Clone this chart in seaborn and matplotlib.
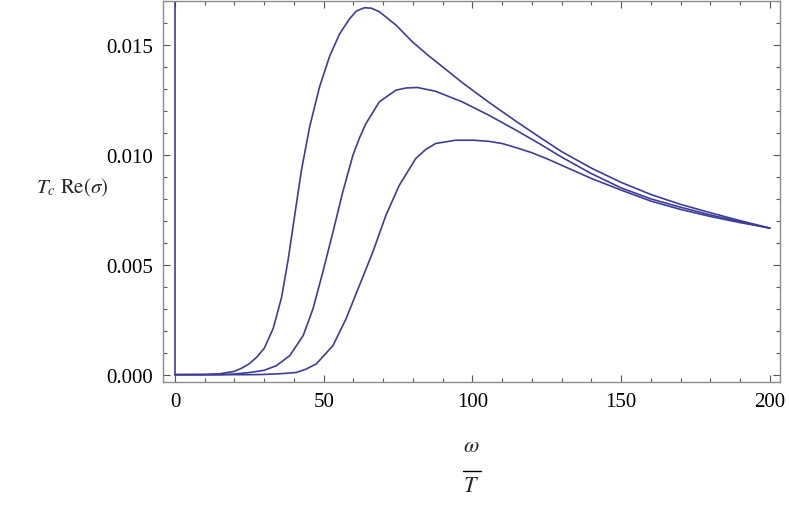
import numpy as np
import pandas as pd
import matplotlib
matplotlib.use("Agg")
import matplotlib.pyplot as plt
from matplotlib.lines import Line2D
from matplotlib.ticker import MultipleLocator, FixedLocator
import seaborn as sns

# values, one (omega, value) list per curve
omega_a = [0, 10, 15, 20, 22.5, 25, 27.5, 30, 33.0, 35.8, 38.0, 40.3, 42.5,
           45.3, 48.6, 52.0, 55.3, 58.7, 61, 63.7, 66, 68.7, 74.3, 79.8, 85.4,
           91.0, 96.5, 105.5, 115, 122.7, 130, 140, 150, 160, 170, 180, 190, 200]
curve_a = [0, 0.00001, 0.00004, 0.00015, 0.0003, 0.0005, 0.0008, 0.0012,
           0.0021, 0.0035, 0.0052, 0.0073, 0.0093, 0.0113, 0.0131, 0.0145,
           0.0155, 0.0162, 0.01655, 0.0167, 0.01668, 0.01652, 0.01591, 0.01515,
           0.0145, 0.0139, 0.0133, 0.0124, 0.0115, 0.0108, 0.01015, 0.0094,
           0.00875, 0.0082, 0.00775, 0.00737, 0.00701, 0.00667]

omega_b = [0, 15, 20, 25.2, 30, 34.1, 38.6, 43.1, 46.4, 49.7, 53.1, 56.4, 59.8,
           62, 64.2, 68.7, 74.3, 77.8, 81.5, 87.6, 96.5, 105.5, 115, 122.7, 130,
           140, 150, 160, 170, 180, 190, 200]
curve_b = [0, 0, 0.00003, 0.0001, 0.0002, 0.00041, 0.00087, 0.00178, 0.003,
           0.00467, 0.00649, 0.00831, 0.00998, 0.01077, 0.01143, 0.01242, 0.01295,
           0.01305, 0.01307, 0.0129, 0.01242, 0.01181, 0.0111, 0.0105, 0.0099,
           0.00915, 0.0085, 0.0080, 0.00762, 0.00727, 0.00696, 0.00667]

omega_c = [0, 25, 29.7, 35, 40.8, 44, 47.5, 53.1, 57.5, 62.0, 66.5, 70.9, 75.4,
           80.9, 84.2, 87.6, 94.3, 100.4, 105.5, 110, 115, 120, 125, 130, 140,
           150, 160, 170, 180, 190, 200]
curve_c = [0, 0, 0.00001, 0.00004, 0.0001, 0.00025, 0.00049, 0.00132, 0.00254,
           0.00406, 0.00558, 0.00725, 0.00862, 0.00983, 0.01024, 0.01052, 0.01067,
           0.01067, 0.01062, 0.01052, 0.01032, 0.0101, 0.00983, 0.00953, 0.00893,
           0.0084, 0.0079, 0.00752, 0.0072, 0.00692, 0.00667]

# delta peak at omega = 0
delta_x = [0, 0]
delta_y = [0, 0.0175]

df = pd.DataFrame({
    "omega": omega_a + omega_b + omega_c,
    "val": curve_a + curve_b + curve_c,
    "curve": ["a"] * len(omega_a) + ["b"] * len(omega_b) + ["c"] * len(omega_c),
})

sns.set_style("ticks")
plt.rcParams["font.family"] = ["Liberation Serif", "DejaVu Serif"]
plt.rcParams["mathtext.fontset"] = "stix"

line_col = "#3d3d99"
frame_col = "#8c8c8c"

fig = plt.figure(figsize=(7.89, 5.06), dpi=100)
ax = fig.add_axes([0.2066, 0.2431, 0.782, 0.7529])

sns.lineplot(data=df, x="omega", y="val", units="curve", estimator=None,
             color=line_col, lw=1.2, ax=ax)
sns.lineplot(x=delta_x, y=delta_y, estimator=None, sort=False,
             color=line_col, lw=1.2, ax=ax)

ax.set_xlim(-4.03, 203.4)
ax.set_ylim(-0.000333, 0.017006)

ax.xaxis.set_major_locator(FixedLocator([0, 50, 100, 150, 200]))
ax.xaxis.set_minor_locator(MultipleLocator(10))
ax.yaxis.set_major_locator(FixedLocator([0.0, 0.005, 0.010, 0.015]))
ax.yaxis.set_minor_locator(MultipleLocator(0.001))
ax.set_yticklabels(["0.000", "0.005", "0.010", "0.015"])

ax.tick_params(which="both", direction="in", top=True, right=True,
               color="#555555", width=0.8, labelsize=15, labelcolor="black")
ax.tick_params(which="major", length=5, pad=7)
ax.tick_params(which="minor", length=3)
for s in ax.spines.values():
    s.set_color(frame_col)
    s.set_linewidth(1.0)

ax.set_ylabel(r"$T_c\ \mathrm{Re}(\sigma)$", rotation=0, fontsize=15,
              ha="right", va="center")
ax.yaxis.set_label_coords(-0.089, 0.512)
ax.set_xlabel("")

# x label drawn as a stacked fraction omega / T
fig.text(0.5976, 0.1166, r"$\omega$", fontsize=16, ha="center", va="center")
fig.add_artist(Line2D([0.5868, 0.6096], [0.0672, 0.0672], color="black",
                      lw=1.0, transform=fig.transFigure))
fig.text(0.5976, 0.0356, r"$T$", fontsize=16, ha="center", va="center")

fig.savefig("out.png", dpi=100)
